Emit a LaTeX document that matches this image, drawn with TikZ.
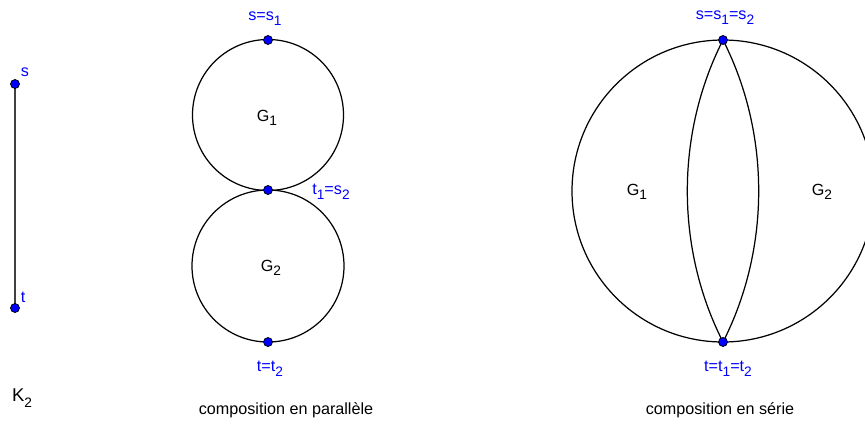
\documentclass[tikz,border=0pt]{standalone}
\usepackage{fontspec}
\setmainfont{Liberation Sans}
\usetikzlibrary{positioning,backgrounds}
\definecolor{ptblue}{RGB}{0,0,255}
\definecolor{segray}{RGB}{64,64,64}
\newcommand{\lo}[1]{\raisebox{-.55ex}{\fontsize{7.8}{8}\selectfont #1}}
\tikzset{
  pt/.style={circle,fill=ptblue,draw=black,line width=.4pt,inner sep=0pt,minimum size=1.8mm},
  vlab/.style={text=ptblue,font=\fontsize{9.2}{11}\selectfont,inner sep=1pt},
  glab/.style={font=\fontsize{9.2}{11}\selectfont,inner sep=1pt},
  edge/.style={draw=black,line width=.7pt},
  seg/.style={draw=segray,line width=1pt}
}

\begin{document}
\begin{tikzpicture}[x=0.02cm,y=-0.02cm]
  \useasboundingbox (0,0) rectangle (865,423);
  \clip (0,0) rectangle (865,423);

  % K_2
  \node[pt] (s) at (15,84) {};
  \node[pt] (t) at (15,308) {};
  \node[vlab] (sl) at (25,72) {s};
  \node[vlab] (tl) at (23,297) {t};
  \node[glab,font=\fontsize{10.5}{12}\selectfont] (k2) at (22,398) {K\lo{2}};
  \begin{scope}[on background layer]
    \draw[seg] (s.center)--(t.center);
  \end{scope}

  % parallele
  \coordinate (pc1) at (268,115);
  \coordinate (pc2) at (268,266);
  \node[pt] (ps) at (268,40) {};
  \node[pt] (pm) at (268,190) {};
  \node[pt] (pt) at (268,342) {};
  \node[vlab] (psl) at (265,19) {s=s\lo{1}};
  \node[vlab] (pml) at (331,192) {t\lo{1}=s\lo{2}};
  \node[vlab] (ptl) at (270,369) {t=t\lo{2}};
  \node[glab] (pg1) at (267,118) {G\lo{1}};
  \node[glab] (pg2) at (271,268) {G\lo{2}};
  \node[glab] (ptitle) at (286,410) {composition en parallèle};
  \begin{scope}[on background layer]
    \draw[edge] (pc1) circle[radius=75.5];
    \draw[edge] (pc2) circle[radius=76];
  \end{scope}

  % serie
  \coordinate (sc) at (723,191);
  \node[pt] (ss) at (723,40) {};
  \node[pt] (st) at (723,342) {};
  \node[vlab] (ssl) at (725,18) {s=s\lo{1}=s\lo{2}};
  \node[vlab] (stl) at (728,369) {t=t\lo{1}=t\lo{2}};
  \node[glab] (sg1) at (637,192) {G\lo{1}};
  \node[glab] (sg2) at (822,192) {G\lo{2}};
  \node[glab] (stitle) at (720,410) {composition en série};
  \begin{scope}[on background layer]
    \draw[edge] (sc) circle[radius=151];
    \draw[edge] (ss.center) to[bend right=27,looseness=.89] (st.center);
    \draw[edge] (ss.center) to[bend left=27,looseness=.89] (st.center);
  \end{scope}
\end{tikzpicture}
\end{document}
